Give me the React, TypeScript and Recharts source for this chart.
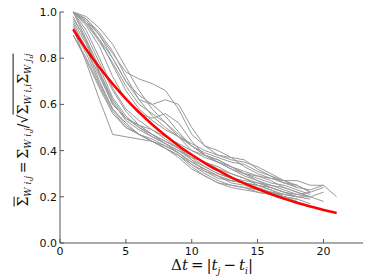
import { LineChart, Line, XAxis, YAxis } from "recharts";

// x positions (Δt) and axis ticks
const dt = [1, 2, 3, 4, 5, 6, 7, 8, 9, 10, 11, 12, 13, 14, 15, 16, 17, 18, 19, 20, 21];
const xTicks = [0, 5, 10, 15, 20];
const yTicks = [0, 0.2, 0.4, 0.6, 0.8, 1.0];

// individual normalized covariance curves (start at Δt = 1)
const s1 = [0.93, 0.78, 0.62, 0.47, 0.46, 0.45, 0.44, 0.42, 0.39, 0.34, 0.31, 0.29, 0.27, 0.26, 0.24, 0.22, 0.21];
const s2 = [1.0, 0.96, 0.9, 0.82, 0.74, 0.71, 0.69, 0.66, 0.58, 0.47, 0.42, 0.4, 0.37, 0.33, 0.3, 0.28, 0.26, 0.25, 0.22];
const s3 = [1.0, 0.95, 0.88, 0.8, 0.7, 0.62, 0.6, 0.62, 0.6, 0.5, 0.42, 0.38, 0.36, 0.35, 0.33, 0.3, 0.27, 0.27, 0.25, 0.25, 0.2];
const s4 = [1.0, 0.9, 0.78, 0.66, 0.57, 0.51, 0.47, 0.44, 0.41, 0.38, 0.35, 0.32, 0.3, 0.28, 0.26, 0.24, 0.22, 0.2, 0.19];
const s5 = [0.95, 0.84, 0.7, 0.58, 0.51, 0.47, 0.45, 0.42, 0.39, 0.35, 0.32, 0.29, 0.27, 0.26, 0.24, 0.22, 0.2, 0.19];
const s6 = [1.0, 0.88, 0.74, 0.61, 0.53, 0.49, 0.46, 0.43, 0.4, 0.36, 0.33, 0.3, 0.28, 0.26, 0.25, 0.24, 0.22, 0.21, 0.2, 0.18];
const s7 = [0.9, 0.79, 0.67, 0.56, 0.5, 0.47, 0.44, 0.41, 0.38, 0.34, 0.3, 0.27, 0.25, 0.24, 0.23, 0.21, 0.19, 0.18];
const s8 = [1.0, 0.97, 0.91, 0.83, 0.72, 0.62, 0.55, 0.5, 0.46, 0.42, 0.38, 0.35, 0.33, 0.31, 0.29, 0.27, 0.24, 0.22, 0.2];
const s9 = [0.96, 0.86, 0.74, 0.62, 0.54, 0.5, 0.47, 0.44, 0.41, 0.37, 0.33, 0.3, 0.28, 0.27, 0.26, 0.25, 0.23, 0.21, 0.22, 0.24];
const s10 = [1.0, 0.92, 0.8, 0.67, 0.58, 0.53, 0.49, 0.46, 0.43, 0.4, 0.38, 0.36, 0.33, 0.3, 0.27, 0.24, 0.22, 0.2];
const s11 = [0.92, 0.82, 0.69, 0.58, 0.52, 0.47, 0.44, 0.41, 0.38, 0.33, 0.29, 0.26, 0.24, 0.23, 0.22, 0.21, 0.2, 0.19, 0.17];
const s12 = [1.0, 0.96, 0.88, 0.77, 0.66, 0.58, 0.53, 0.49, 0.46, 0.43, 0.4, 0.38, 0.37, 0.36, 0.32, 0.29, 0.27, 0.25, 0.22];
const s13 = [0.94, 0.84, 0.72, 0.6, 0.54, 0.51, 0.47, 0.43, 0.39, 0.35, 0.32, 0.29, 0.26, 0.25, 0.23, 0.22, 0.21, 0.2, 0.2, 0.22];
const s14 = [1.0, 0.98, 0.93, 0.86, 0.76, 0.66, 0.58, 0.52, 0.47, 0.42, 0.38, 0.36, 0.33, 0.3, 0.28, 0.26, 0.25, 0.23, 0.21];
const s15 = [0.98, 0.87, 0.73, 0.6, 0.54, 0.51, 0.49, 0.45, 0.41, 0.36, 0.31, 0.28, 0.27, 0.26, 0.25, 0.23, 0.21, 0.2];
const s16 = [1.0, 0.94, 0.85, 0.72, 0.62, 0.56, 0.54, 0.56, 0.52, 0.44, 0.38, 0.35, 0.32, 0.3, 0.29, 0.28, 0.27, 0.24, 0.23, 0.25];
const s17 = [0.9, 0.8, 0.68, 0.57, 0.5, 0.47, 0.44, 0.41, 0.37, 0.32, 0.29, 0.26, 0.25, 0.24, 0.22, 0.21, 0.19];
const s18 = [1.0, 0.95, 0.87, 0.78, 0.68, 0.6, 0.56, 0.52, 0.46, 0.4, 0.37, 0.35, 0.32, 0.29, 0.27, 0.25, 0.24, 0.22, 0.2];
const s19 = [0.97, 0.88, 0.76, 0.63, 0.55, 0.5, 0.46, 0.43, 0.4, 0.37, 0.35, 0.33, 0.3, 0.28, 0.25, 0.23, 0.2, 0.18];
const s20 = [1.0, 0.97, 0.9, 0.8, 0.7, 0.64, 0.6, 0.55, 0.48, 0.42, 0.39, 0.37, 0.35, 0.34, 0.31, 0.29, 0.26, 0.24];

// fitted exponential decay (red)
const fit = [0.925, 0.838, 0.76, 0.689, 0.624, 0.566, 0.513, 0.465, 0.421, 0.382, 0.346, 0.314, 0.284, 0.258, 0.234, 0.212, 0.192, 0.174, 0.158, 0.143, 0.13];

const series = [s1, s2, s3, s4, s5, s6, s7, s8, s9, s10, s11, s12, s13, s14, s15, s16, s17, s18, s19, s20];

const data = dt.map((x, i) => {
  const row: Record<string, number | undefined> = { x, fit: fit[i] };
  series.forEach((s, k) => {
    row[`s${k}`] = s[i];
  });
  return row;
});

const tickStyle = { fontFamily: "DejaVu Sans", fontSize: 11, fill: "#111" };
const subStyle = { fontSize: 9, fontStyle: "italic" as const };

export default function App() {
  return (
    <div style={{ position: "absolute", left: 0, top: 0, width: 374, height: 280, background: "#fff" }}>
      <LineChart width={374} height={280} data={data} margin={{ top: 12, right: 11, bottom: 0, left: 0 }}>
        <XAxis
          dataKey="x"
          type="number"
          domain={[0, 23]}
          ticks={xTicks}
          height={37}
          tickSize={-4}
          tickMargin={8}
          stroke="#555"
          tick={tickStyle}
          interval={0}
        />
        <XAxis
          xAxisId="top"
          orientation="top"
          dataKey="x"
          type="number"
          domain={[0, 23]}
          ticks={xTicks}
          height={0}
          tickSize={-4}
          tickFormatter={() => ""}
          stroke="#555"
        />
        <YAxis
          type="number"
          domain={[0, 1]}
          ticks={yTicks}
          width={60}
          tickSize={-4}
          tickMargin={7}
          stroke="#555"
          tick={tickStyle}
          interval={0}
          tickFormatter={(v: number) => v.toFixed(1)}
        />
        <YAxis
          yAxisId="right"
          orientation="right"
          type="number"
          domain={[0, 1]}
          ticks={yTicks}
          width={0}
          tickSize={-4}
          tickFormatter={() => ""}
          stroke="#555"
        />
        {series.map((_, k) => (
          <Line
            key={k}
            dataKey={`s${k}`}
            type="linear"
            stroke="#999"
            strokeWidth={1}
            dot={false}
            isAnimationActive={false}
          />
        ))}
        <Line dataKey="fit" type="monotone" stroke="#ff0000" strokeWidth={2.5} dot={false} isAnimationActive={false} />
      </LineChart>

      {/* y label */}
      <div
        style={{
          position: "absolute",
          left: 24,
          top: 130,
          transform: "translate(-50%, -50%) rotate(-90deg)",
          whiteSpace: "nowrap",
          fontFamily: "DejaVu Serif",
          fontSize: 14,
          color: "#111",
        }}
      >
        <span style={{ textDecoration: "overline" }}>Σ</span>
        <sub style={subStyle}>W i,j</sub>
        <span>{"\u2009=\u2009"}</span>
        <span>Σ</span>
        <sub style={subStyle}>W i,j</sub>
        <span>/√</span>
        <span style={{ borderTop: "1px solid #111", paddingTop: 1 }}>
          Σ<sub style={subStyle}>W i,i</sub>Σ<sub style={subStyle}>W j,j</sub>
        </span>
      </div>

      {/* x label */}
      <div
        style={{
          position: "absolute",
          left: 212,
          top: 266,
          transform: "translate(-50%, -50%)",
          whiteSpace: "nowrap",
          fontFamily: "DejaVu Serif",
          fontSize: 15,
          color: "#111",
        }}
      >
        Δ<i>t</i>
        {"\u2009=\u2009|"}
        <i>t</i>
        <sub style={subStyle}>j</sub>
        {"\u2009−\u2009"}
        <i>t</i>
        <sub style={subStyle}>i</sub>|
      </div>
    </div>
  );
}
